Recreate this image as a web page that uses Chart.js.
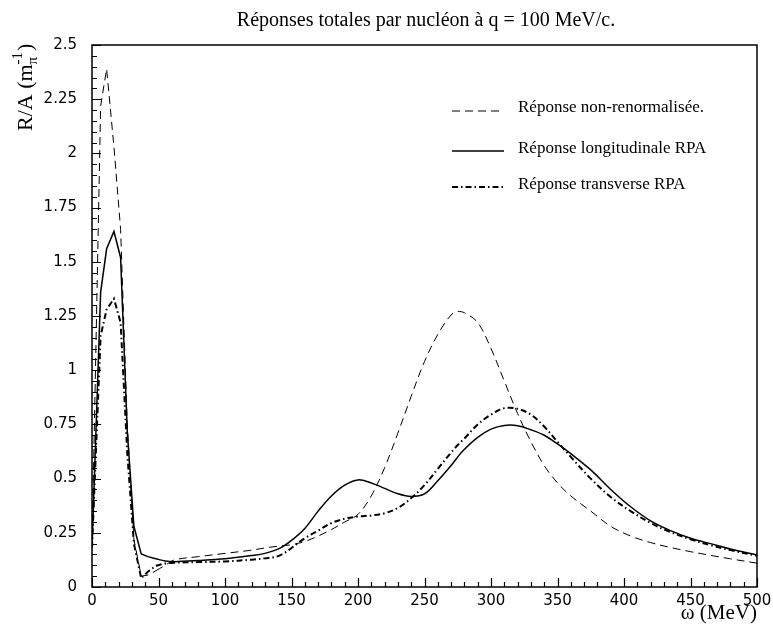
<!DOCTYPE html>
<html><head><meta charset="utf-8">
<script src="https://cdn.jsdelivr.net/npm/chart.js@4/dist/chart.umd.min.js"></script>
<style>html,body{margin:0;padding:0;background:#fff}#wrap{width:773px;height:633px;position:relative}</style>
</head><body><div id="wrap"><canvas id="c"></canvas></div>
<script>
// ---- data ----
const titleText = 'Réponses totales par nucléon à q = 100 MeV/c.';
const xAxisTitle = 'ω (MeV)';
const seriesNames = ['Réponse non-renormalisée.', 'Réponse longitudinale RPA', 'Réponse transverse RPA'];
const omega = [0,6.5,11,16.5,21.5,26.5,31.5,37,42,48,55,62,80,100,120,130,141,150,160,170,180,190,200,210,220,230,240,250,260,270,275,280,290,300,310,320,330,340,350,360,375,390,405,420,435,450,465,480,500];
const nonRenorm = [0.18,2.22,2.39,2.03,1.65,0.75,0.22,0.05,0.055,0.075,0.10,0.125,0.14,0.155,0.17,0.18,0.189,0.195,0.21,0.235,0.265,0.30,0.335,0.42,0.55,0.71,0.88,1.04,1.165,1.255,1.27,1.265,1.22,1.10,0.95,0.80,0.67,0.56,0.48,0.42,0.35,0.28,0.235,0.205,0.182,0.163,0.146,0.13,0.11];
const longRPA = [0.18,1.36,1.56,1.64,1.52,0.72,0.28,0.152,0.14,0.13,0.12,0.117,0.122,0.13,0.145,0.155,0.178,0.215,0.27,0.35,0.42,0.47,0.494,0.48,0.455,0.43,0.418,0.43,0.49,0.56,0.60,0.635,0.69,0.728,0.745,0.744,0.725,0.70,0.66,0.615,0.54,0.45,0.37,0.305,0.26,0.225,0.20,0.175,0.148];
const transRPA = [0.18,1.16,1.28,1.33,1.22,0.62,0.20,0.04,0.07,0.098,0.108,0.112,0.115,0.118,0.126,0.132,0.145,0.18,0.225,0.26,0.295,0.315,0.325,0.33,0.34,0.365,0.41,0.47,0.545,0.62,0.655,0.685,0.75,0.795,0.825,0.822,0.795,0.74,0.67,0.60,0.50,0.415,0.35,0.295,0.253,0.22,0.193,0.17,0.144];
const yTickLabels = ['0','0.25','0.5','0.75','1','1.25','1.5','1.75','2','2.25','2.5'];
const xTickLabels = ['0','50','100','150','200','250','300','350','400','450','500'];

// ---- styles ----
const styles = [
  {dash:[8,5], width:1},
  {dash:[], width:1.5},
  {dash:[6,3,1.5,3], width:2}
];
const seriesValues = [nonRenorm, longRPA, transRPA];
const splitIdx = omega.indexOf(48); // sharp low-energy part drawn straight, the rest smooth

const datasets = [];
seriesValues.forEach((vals, s) => {
  const pts = omega.map((x, i) => ({x, y: vals[i]}));
  datasets.push({label: seriesNames[s], data: pts.slice(0, splitIdx + 1), borderColor:'#000', borderWidth: styles[s].width, borderDash: styles[s].dash, pointRadius:0, tension:0, fill:false});
  datasets.push({label: seriesNames[s] + ' ', data: pts.slice(splitIdx), borderColor:'#000', borderWidth: styles[s].width, borderDash: styles[s].dash, pointRadius:0, tension:0.35, fill:false});
});

const decor = {
  id: 'decor',
  afterDraw(chart) {
    const ctx = chart.ctx, a = chart.chartArea, xs = chart.scales.x, ys = chart.scales.y;
    ctx.save();
    ctx.strokeStyle = '#000'; ctx.fillStyle = '#000';
    ctx.setLineDash([]);
    // inward ticks
    ctx.lineWidth = 1.2;
    ctx.beginPath();
    for (let v = 0; v <= 500; v += 10) {
      const px = Math.round(xs.getPixelForValue(v)) + 0.5;
      const len = (v % 50 === 0) ? 9 : 5;
      ctx.moveTo(px, a.bottom); ctx.lineTo(px, a.bottom - len);
    }
    for (let k = 0; k <= 50; k++) {
      const v = k * 0.05;
      const py = Math.round(ys.getPixelForValue(v)) + 0.5;
      const len = (k % 5 === 0) ? 9 : 5;
      ctx.moveTo(a.left, py); ctx.lineTo(a.left + len, py);
    }
    ctx.stroke();
    // frame
    ctx.lineWidth = 1.5;
    ctx.strokeRect(a.left, a.top, a.right - a.left, a.bottom - a.top);
    // title
    ctx.font = '20px "Liberation Serif"';
    ctx.textAlign = 'center'; ctx.textBaseline = 'alphabetic';
    ctx.fillText(titleText, 426, 26);
    // x axis title
    ctx.font = '21px "Liberation Serif"';
    ctx.textAlign = 'right';
    ctx.fillText(xAxisTitle, a.right, 619);
    // y axis title, rotated, with subscript / superscript
    ctx.save();
    ctx.translate(32, 131);
    ctx.rotate(-Math.PI / 2);
    ctx.textAlign = 'left';
    ctx.font = '22px "Liberation Serif"';
    const main = 'R/A (m';
    ctx.fillText(main, 0, 0);
    let w = ctx.measureText(main).width;
    ctx.font = '15px "Liberation Serif"';
    ctx.fillText('π', w, 5);
    const wpi = ctx.measureText('π').width;
    ctx.fillText('-1', w, -10);
    const wsup = ctx.measureText('-1').width;
    w += Math.max(wpi, wsup) + 1;
    ctx.font = '22px "Liberation Serif"';
    ctx.fillText(')', w, 0);
    ctx.restore();
    // legend
    const rows = [{ly:111, ty:112}, {ly:151, ty:153}, {ly:187, ty:189}];
    ctx.font = '17px "Liberation Serif"';
    ctx.textAlign = 'left';
    rows.forEach((r, s) => {
      ctx.lineWidth = styles[s].width;
      ctx.setLineDash(styles[s].dash);
      ctx.beginPath(); ctx.moveTo(452, r.ly); ctx.lineTo(504, r.ly); ctx.stroke();
      ctx.setLineDash([]);
      ctx.fillText(seriesNames[s], 518, r.ty);
    });
    ctx.restore();
  }
};

new Chart(document.getElementById('c'), {
  type: 'line',
  data: {datasets},
  options: {
    responsive: true, maintainAspectRatio: false, animation: false,
    layout: {padding: {top: 45, right: 16, left: 0, bottom: 0}},
    plugins: {legend: {display:false}, tooltip: {enabled:false}, title: {display:false}},
    scales: {
      x: {
        type: 'linear', min: 0, max: 500,
        grid: {display:false, drawTicks:false}, border: {display:false},
        ticks: {stepSize: 50, color:'#000', padding: 5, maxRotation: 0, autoSkip: false,
          font: {family: 'DejaVu Sans', size: 15},
          callback: (v, i) => xTickLabels[i]},
        afterFit: (s) => { s.height = 46; s.paddingLeft = 0; s.paddingRight = 0; }
      },
      y: {
        type: 'linear', min: 0, max: 2.5,
        grid: {display:false, drawTicks:false}, border: {display:false},
        ticks: {stepSize: 0.25, color:'#000', padding: 15, autoSkip: false,
          font: {family: 'DejaVu Sans', size: 15},
          callback: (v, i) => yTickLabels[i]},
        afterFit: (s) => { s.width = 92; s.paddingTop = 0; s.paddingBottom = 0; }
      }
    }
  },
  plugins: [decor]
});
</script>
</body></html>
